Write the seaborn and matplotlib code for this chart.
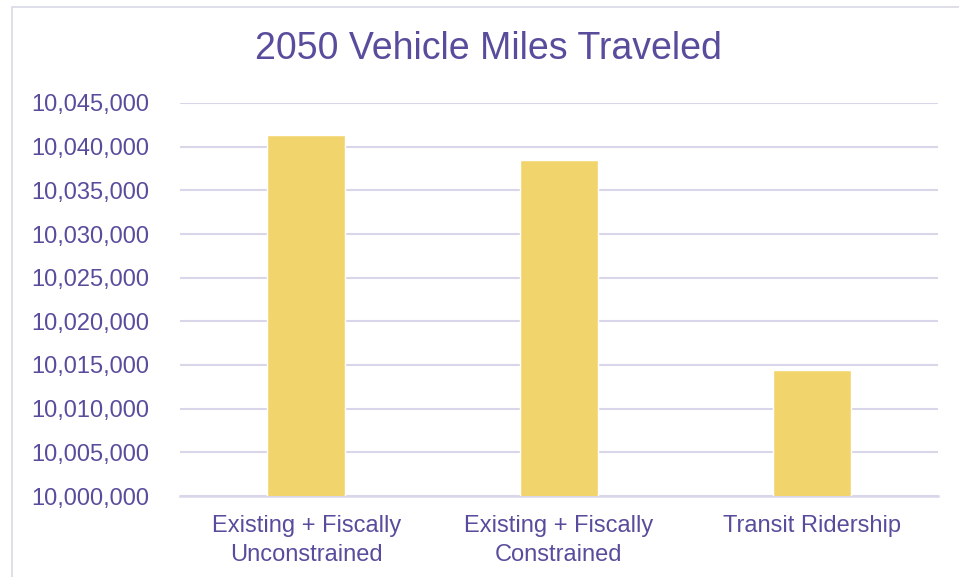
import matplotlib
matplotlib.use("Agg")
import matplotlib.pyplot as plt
from matplotlib.patches import Rectangle
from matplotlib.ticker import FuncFormatter, MultipleLocator
import seaborn as sns
import pandas as pd

# 2050 vehicle miles traveled by scenario
scenarios = ["Existing + Fiscally\nUnconstrained",
             "Existing + Fiscally\nConstrained",
             "Transit Ridership"]
vmt = [10041380, 10038440, 10014420]

y_min, y_max, y_step = 10000000, 10045000, 5000

TEXT = "#5a4c9c"
BAR = "#f2d46c"
GRID = "#d9d6ea"

sns.set_theme(style="white")
plt.rcParams["font.family"] = ["Liberation Sans", "DejaVu Sans"]

df = pd.DataFrame({"scenario": scenarios, "vmt": vmt})

fig = plt.figure(figsize=(9.59, 5.77), dpi=100)
ax = fig.add_axes([180 / 959, 81 / 577, 758 / 959, 393 / 577])

sns.barplot(data=df, x="scenario", y="vmt", color=BAR, width=0.31,
            saturation=1, ax=ax, zorder=3)

ax.set_ylim(y_min, y_max)
ax.yaxis.set_major_locator(MultipleLocator(y_step))
ax.yaxis.set_major_formatter(FuncFormatter(lambda v, p: f"{v:,.0f}"))
ax.grid(axis="y", color=GRID, linewidth=1.5, zorder=0)
ax.set_axisbelow(True)

for side in ["top", "right", "left"]:
    ax.spines[side].set_visible(False)
ax.spines["bottom"].set_color(GRID)
ax.spines["bottom"].set_linewidth(1.8)

ax.tick_params(axis="y", length=0, pad=22, labelsize=17, labelcolor=TEXT)
ax.tick_params(axis="x", length=0, pad=14, labelsize=17, labelcolor=TEXT)
for lbl in ax.get_xticklabels():
    lbl.set_linespacing(1.38)
ax.set_xlabel("")
ax.set_ylabel("")

fig.text(488 / 959, 1 - 49 / 577, "2050 Vehicle Miles Traveled",
         ha="center", va="center", fontsize=27, color=TEXT)

# chart area frame
fig.patches.append(Rectangle((12 / 959, -0.1), 1.2, 1.1 - 7 / 577,
                             transform=fig.transFigure, fill=False,
                             edgecolor="#d9d9e6", linewidth=1.2))

fig.savefig("out.png", dpi=100)
